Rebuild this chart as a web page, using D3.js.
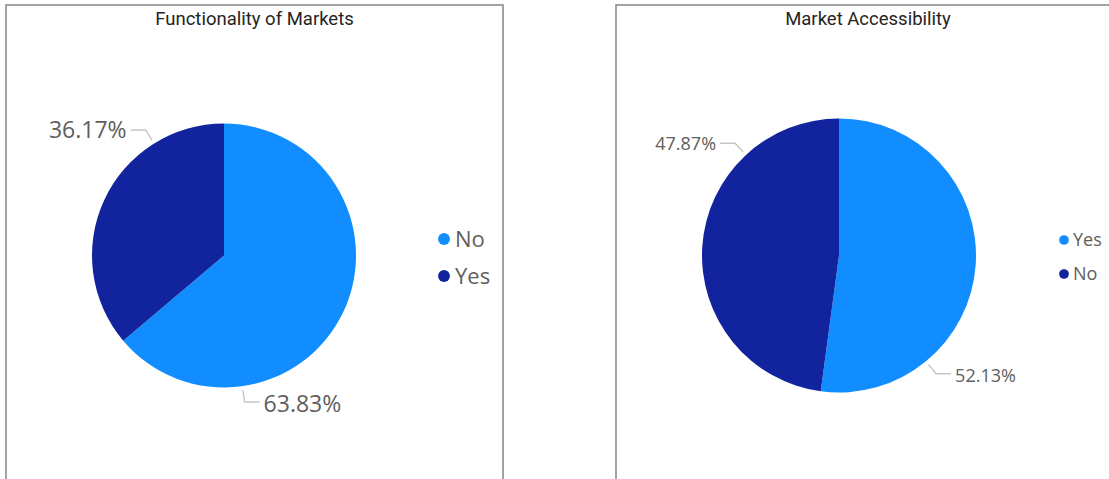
<!DOCTYPE html>
<html>
<head>
<meta charset="utf-8">
<script src="https://cdn.jsdelivr.net/npm/d3@7"></script>
<style>
  body { margin: 0; background: #fff; }
  svg { display: block; }
</style>
</head>
<body>
<svg id="chart" width="1109" height="479"></svg>
<script>
// Chart data
var titles = ["Functionality of Markets", "Market Accessibility"];
var functionalityCats = ["No", "Yes"];
var functionalityVals = [63.83, 36.17];
var accessibilityCats = ["Yes", "No"];
var accessibilityVals = [52.13, 47.87];

// Power BI default palette, first two colours
var sliceColors = ["#118DFF", "#12239E"];

// Layout for the two panels (positions only, no data)
var panels = [
    { x: 6, width: 497, cx: 224, cy: 255.5, r: 132, labelSize: 23,
      legendX: 444, legendY: 239, legendGap: 37, legendSize: 22,
      labelAngles: [172, 328] },
    { x: 616, width: 504, cx: 839, cy: 255.5, r: 137, labelSize: 18,
      legendX: 1064, legendY: 240, legendGap: 34, legendSize: 18,
      labelAngles: [140.6, 317.2] }
];

var chartData = [
    { cats: functionalityCats, vals: functionalityVals },
    { cats: accessibilityCats, vals: accessibilityVals }
];

var svg = d3.select("#chart");
var toRad = Math.PI / 180;

function drawPanel(p, i) {
    var data = chartData[i];
    var g = svg.append("g");

    // panel frame, runs past the bottom of the picture
    g.append("rect")
        .attr("x", p.x)
        .attr("y", 5)
        .attr("width", p.width)
        .attr("height", 520)
        .attr("fill", "none")
        .attr("stroke", "#8c8c8c")
        .attr("stroke-width", 1.6);

    g.append("text")
        .attr("x", p.x + p.width / 2)
        .attr("y", 24.5)
        .attr("text-anchor", "middle")
        .attr("font-family", "Roboto, 'DejaVu Sans', sans-serif")
        .attr("font-size", 18.5)
        .attr("fill", "#252423")
        .text(titles[i]);

    var color = d3.scaleOrdinal().domain([0, 1]).range(sliceColors);

    var pie = d3.pie().sort(null).value(function(d) { return d; });
    var arcs = pie(data.vals);
    var total = d3.sum(data.vals);

    var arc = d3.arc().innerRadius(0).outerRadius(p.r);

    var pieG = g.append("g").attr("transform", "translate(" + p.cx + "," + p.cy + ")");
    pieG.selectAll("path")
        .data(arcs)
        .enter()
        .append("path")
        .attr("d", arc)
        .attr("fill", function(d, k) { return color(k); });

    // data labels with leader lines
    arcs.forEach(function(d, k) {
        var a = p.labelAngles[k] * toRad;
        var sx = Math.sin(a), sy = -Math.cos(a);
        var x0 = sx * (p.r + 4), y0 = sy * (p.r + 4);
        var x1 = sx * (p.r + 16), y1 = sy * (p.r + 16);
        var dir = sx < 0 ? -1 : 1;
        var x2 = x1 + dir * 15;
        pieG.append("polyline")
            .attr("points", [[x0, y0], [x1, y1], [x2, y1]].join(" "))
            .attr("fill", "none")
            .attr("stroke", "#c8c6c4")
            .attr("stroke-width", 1.4);
        pieG.append("text")
            .attr("x", x2 + dir * 4)
            .attr("y", y1 + (sy > 0 ? 2 : 0))
            .attr("dy", "0.35em")
            .attr("text-anchor", dir < 0 ? "end" : "start")
            .attr("font-family", "'Open Sans', 'Noto Sans', sans-serif")
            .attr("font-size", p.labelSize)
            .attr("fill", "#605E5C")
            .text(d3.format(".2f")(d.data / total * 100) + "%");
    });

    // legend
    var leg = g.selectAll(".leg")
        .data(data.cats)
        .enter()
        .append("g")
        .attr("transform", function(d, k) {
            return "translate(" + p.legendX + "," + (p.legendY + k * p.legendGap) + ")";
        });
    leg.append("circle")
        .attr("r", p.legendSize * 0.27)
        .attr("fill", function(d, k) { return color(k); });
    leg.append("text")
        .attr("x", p.legendSize * 0.5)
        .attr("dy", "0.35em")
        .attr("font-family", "'Open Sans', 'Noto Sans', sans-serif")
        .attr("font-size", p.legendSize)
        .attr("fill", "#605E5C")
        .text(function(d) { return d; });
}

panels.forEach(drawPanel);
</script>
</body>
</html>
